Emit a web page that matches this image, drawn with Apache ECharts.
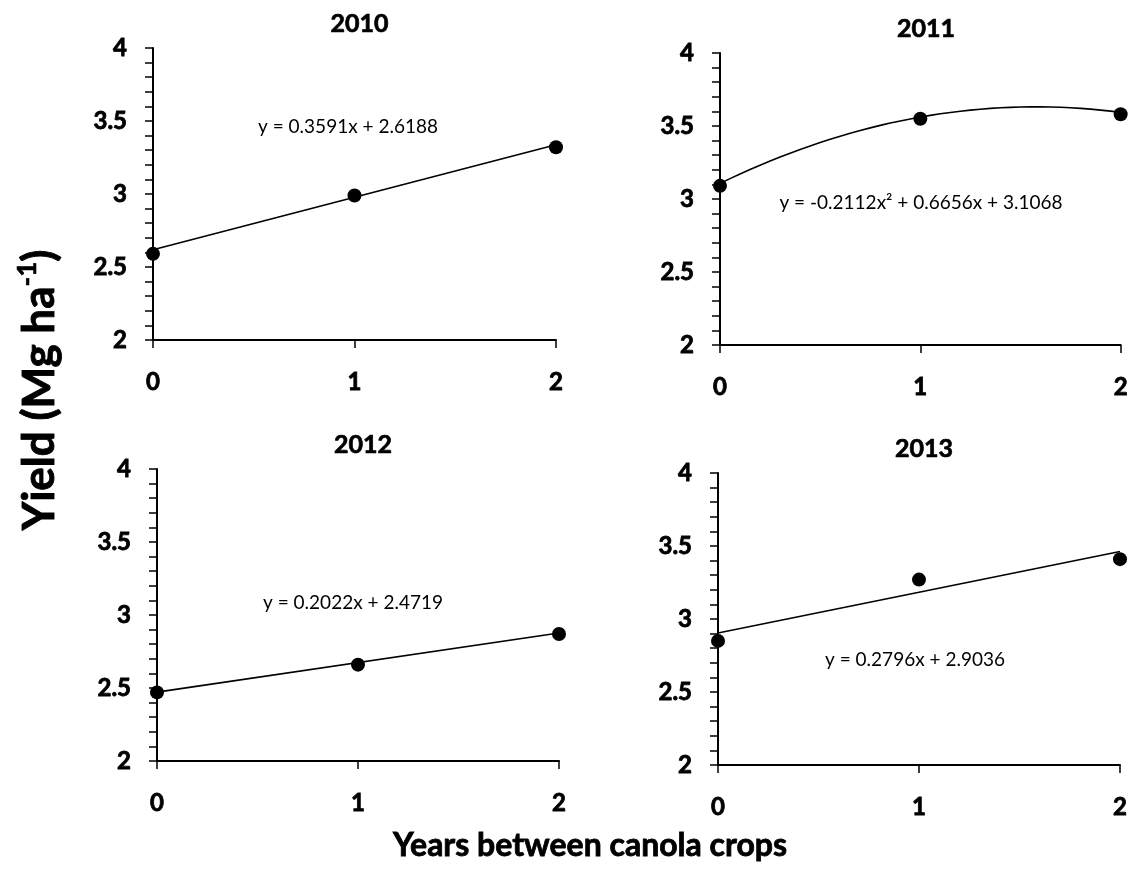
<!DOCTYPE html>
<html>
<head>
<meta charset="utf-8">
<script src="https://cdn.jsdelivr.net/npm/echarts@6/dist/echarts.min.js"></script>
<style>
html,body{margin:0;padding:0;background:#fff;}
#chart{width:1131px;height:886px;}
</style>
</head>
<body>
<div id="chart"></div>
<script>
// ---- data ----
const years = ['2010', '2011', '2012', '2013'];
const xValues = [0, 1, 2];
const yield2010 = [2.59, 2.99, 3.32];
const yield2011 = [3.09, 3.55, 3.58];
const yield2012 = [2.47, 2.66, 2.87];
const yield2013 = [2.85, 3.27, 3.41];
// trendline coefficients [a (x^2), b (x), c]
const trend2010 = [0, 0.3591, 2.6188];
const trend2011 = [-0.2112, 0.6656, 3.1068];
const trend2012 = [0, 0.2022, 2.4719];
const trend2013 = [0, 0.2796, 2.9036];
const equations = [
  'y = 0.3591x + 2.6188',
  'y = -0.2112x² + 0.6656x + 3.1068',
  'y = 0.2022x + 2.4719',
  'y = 0.2796x + 2.9036'
];
const yTicks = [2, 2.5, 3, 3.5, 4];
const xTicks = [0, 1, 2];

const yieldSets = [yield2010, yield2011, yield2012, yield2013];
const trends = [trend2010, trend2011, trend2012, trend2013];

// ---- layout ----
const FONT = 'Lato';
const grids = [
  {left: 153, top: 48, width: 403, height: 292},
  {left: 720, top: 53, width: 402, height: 292},
  {left: 157, top: 469, width: 402, height: 292},
  {left: 718, top: 473, width: 402, height: 292}
];
const eqPos = [[348, 127], [921, 203], [353, 603], [915, 660]];

function trendPoints(coef) {
  const pts = [];
  const n = coef[0] === 0 ? 1 : 40;
  for (let i = 0; i <= n; i++) {
    const x = 2 * i / n;
    pts.push([x, coef[0] * x * x + coef[1] * x + coef[2]]);
  }
  return pts;
}

const chart = echarts.init(document.getElementById('chart'), null, {renderer: 'canvas'});

const boldLabel = {fontFamily: FONT, fontWeight: 'bold', fontSize: 24, color: '#000',
  textBorderColor: '#000', textBorderWidth: 0.8};

const option = {
  backgroundColor: '#fff',
  animation: false,
  title: years.map((y, i) => ({
    text: y,
    left: grids[i].left + grids[i].width / 2,
    top: grids[i].top - 42,
    textAlign: 'center',
    textStyle: {fontFamily: FONT, fontWeight: 'bold', fontSize: 25, color: '#000',
      textBorderColor: '#000', textBorderWidth: 0.7}
  })),
  grid: grids.map(g => Object.assign({containLabel: false}, g)),
  xAxis: grids.map((g, i) => ({
    type: 'value', gridIndex: i, min: 0, max: 2, interval: 1,
    splitLine: {show: false},
    axisLine: {show: true, onZero: false, lineStyle: {color: '#000', width: 2}},
    axisTick: {show: true, inside: false, length: 8, lineStyle: {color: '#000', width: 1.5}},
    axisLabel: Object.assign({margin: 30}, boldLabel)
  })),
  yAxis: grids.map((g, i) => ({
    type: 'value', gridIndex: i, min: 2, max: 4, interval: 0.5,
    splitLine: {show: false},
    axisLine: {show: true, onZero: false, lineStyle: {color: '#000', width: 2}},
    axisTick: {show: true, inside: false, length: 8, lineStyle: {color: '#000', width: 1.5}},
    minorTick: {show: true, splitNumber: 5, length: 8, lineStyle: {color: '#000', width: 1.5}},
    minorSplitLine: {show: false},
    axisLabel: Object.assign({margin: 26, formatter: v => String(v)}, boldLabel)
  })),
  series: [],
  graphic: []
};

yieldSets.forEach((vals, i) => {
  option.series.push({
    type: 'line', xAxisIndex: i, yAxisIndex: i,
    data: trendPoints(trends[i]),
    showSymbol: false, smooth: false,
    lineStyle: {color: '#000', width: 1.6},
    z: 2
  });
  option.series.push({
    type: 'scatter', xAxisIndex: i, yAxisIndex: i,
    data: xValues.map((x, k) => [x, vals[k]]),
    symbol: 'circle', symbolSize: 14,
    itemStyle: {color: '#000', opacity: 1},
    clip: false,
    z: 5
  });
  option.graphic.push({
    type: 'text', x: eqPos[i][0], y: eqPos[i][1],
    style: {text: equations[i], fill: '#000', font: '19px ' + FONT, align: 'center', verticalAlign: 'middle'}
  });
});

option.graphic.push({
  type: 'text', x: 40, y: 390, rotation: Math.PI / 2,
  style: {
    text: '{a|Yield (Mg ha}{s|-1}{a|)}',
    align: 'center', verticalAlign: 'middle',
    rich: {
      a: {fontFamily: FONT, fontWeight: 'bold', fontSize: 44, fill: '#000', lineHeight: 50,
        stroke: '#000', lineWidth: 0.9},
      s: {fontFamily: FONT, fontWeight: 'bold', fontSize: 26, fill: '#000', verticalAlign: 'top', lineHeight: 50,
        stroke: '#000', lineWidth: 0.6}
    }
  }
});
option.graphic.push({
  type: 'text', x: 590, y: 846,
  style: {text: 'Years between canola crops', fill: '#000',
    font: 'bold 32px ' + FONT, align: 'center', verticalAlign: 'middle',
    stroke: '#000', lineWidth: 0.8}
});

chart.setOption(option);
</script>
</body>
</html>
